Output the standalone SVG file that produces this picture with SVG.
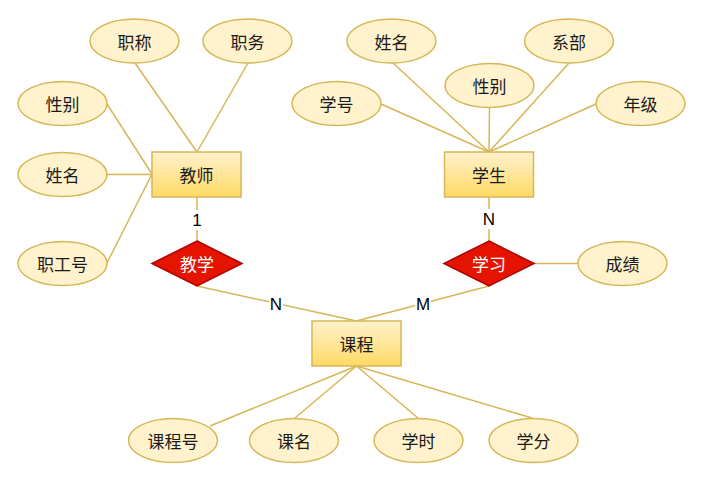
<svg xmlns="http://www.w3.org/2000/svg" width="703" height="482" viewBox="0 0 703 482">
<defs>
<linearGradient id="eg" x1="0" y1="0" x2="0" y2="1">
<stop offset="0" stop-color="#fff2cc"/>
<stop offset="1" stop-color="#ffd966"/>
</linearGradient>
<style>
.attr{fill:#fff2cc;stroke:#d6b656;stroke-width:1.5}
.ent{fill:url(#eg);stroke:#d6b656;stroke-width:1.5}
.rel{fill:#e51400;stroke:#b20000;stroke-width:1.5}
.t{font-family:"Noto Sans CJK SC","Liberation Sans",sans-serif;font-size:17px;fill:#1a1a1a;text-anchor:middle;dominant-baseline:central}
.tw{fill:#ffffff}
.lbl{font-family:"Liberation Sans",Arial,sans-serif;font-size:17px;fill:#000;text-anchor:middle;dominant-baseline:central}
.ln{stroke:#d6b656;stroke-width:1.5;fill:none}
.bg{fill:#ffffff}
</style>
</defs>
<rect width="703" height="482" fill="#ffffff"/>
<g id="connectors">
<line class="ln" x1="135" y1="63" x2="197" y2="152"/>
<line class="ln" x1="248" y1="63" x2="197" y2="152"/>
<line class="ln" x1="107" y1="104" x2="152" y2="174"/>
<line class="ln" x1="107" y1="174.5" x2="152" y2="174.5"/>
<line class="ln" x1="107" y1="263" x2="152" y2="174"/>
<line class="ln" x1="197" y1="197" x2="197" y2="241"/>
<line class="ln" x1="381" y1="104" x2="489" y2="152"/>
<line class="ln" x1="393" y1="63" x2="489" y2="152"/>
<line class="ln" x1="489.5" y1="108" x2="489" y2="152"/>
<line class="ln" x1="569" y1="63" x2="489" y2="152"/>
<line class="ln" x1="596" y1="104" x2="489" y2="152"/>
<line class="ln" x1="489" y1="197" x2="489" y2="241"/>
<line class="ln" x1="534" y1="263.5" x2="578" y2="263.5"/>
<line class="ln" x1="197" y1="286" x2="356.5" y2="321"/>
<line class="ln" x1="489" y1="286" x2="356.5" y2="321"/>
<line class="ln" x1="356.5" y1="366" x2="210" y2="426"/>
<line class="ln" x1="356.5" y1="366" x2="295" y2="418"/>
<line class="ln" x1="356.5" y1="366" x2="418" y2="418"/>
<line class="ln" x1="356.5" y1="366" x2="532" y2="418"/>
<rect class="bg" x="190" y="210" width="14" height="20"/>
<text class="lbl" x="197" y="220">1</text>
<rect class="bg" x="482" y="209" width="14" height="20"/>
<text class="lbl" x="489" y="219">N</text>
<rect class="bg" x="269" y="294" width="14" height="20"/>
<text class="lbl" x="276" y="304">N</text>
<rect class="bg" x="415" y="294" width="16" height="20"/>
<text class="lbl" x="423" y="304">M</text>
</g>
<g id="t-zhicheng"><ellipse class="attr" cx="134.5" cy="41" rx="44.5" ry="22"/><text class="t" x="134.5" y="41">职称</text></g>
<g id="t-zhiwu"><ellipse class="attr" cx="247.5" cy="41" rx="44.5" ry="22"/><text class="t" x="247.5" y="41">职务</text></g>
<g id="t-xingbie"><ellipse class="attr" cx="62.5" cy="103.5" rx="44.5" ry="22"/><text class="t" x="62.5" y="103.5">性别</text></g>
<g id="t-xingming"><ellipse class="attr" cx="62.5" cy="174.5" rx="44.5" ry="22"/><text class="t" x="62.5" y="174.5">姓名</text></g>
<g id="t-zhigonghao"><ellipse class="attr" cx="62.5" cy="263.5" rx="44.5" ry="22"/><text class="t" x="62.5" y="263.5">职工号</text></g>
<g id="teacher"><rect class="ent" x="152" y="152" width="89" height="45"/><text class="t" x="196.5" y="174.5">教师</text></g>
<g id="teach"><polygon class="rel" points="197,241 242,263.5 197,286 152,263.5"/><text class="t tw" x="197" y="263.5">教学</text></g>
<g id="s-xingming"><ellipse class="attr" cx="391.5" cy="41" rx="44.5" ry="22"/><text class="t" x="391.5" y="41">姓名</text></g>
<g id="s-xibu"><ellipse class="attr" cx="569" cy="41" rx="44.5" ry="22"/><text class="t" x="569" y="41">系部</text></g>
<g id="s-xingbie"><ellipse class="attr" cx="489.5" cy="85.5" rx="44.5" ry="22"/><text class="t" x="489.5" y="85.5">性别</text></g>
<g id="s-xuehao"><ellipse class="attr" cx="336.5" cy="103.5" rx="44.5" ry="22"/><text class="t" x="336.5" y="103.5">学号</text></g>
<g id="s-nianji"><ellipse class="attr" cx="640.5" cy="103.5" rx="44.5" ry="22"/><text class="t" x="640.5" y="103.5">年级</text></g>
<g id="student"><rect class="ent" x="444.5" y="152" width="89" height="45"/><text class="t" x="489" y="174.5">学生</text></g>
<g id="study"><polygon class="rel" points="489,241 534,263.5 489,286 444,263.5"/><text class="t tw" x="489" y="263.5">学习</text></g>
<g id="chengji"><ellipse class="attr" cx="622.5" cy="263.5" rx="44.5" ry="22"/><text class="t" x="622.5" y="263.5">成绩</text></g>
<g id="course"><rect class="ent" x="312" y="321" width="89" height="45"/><text class="t" x="356.5" y="343.5">课程</text></g>
<g id="c-kechenghao"><ellipse class="attr" cx="173" cy="440.5" rx="44.5" ry="22"/><text class="t" x="173" y="440.5">课程号</text></g>
<g id="c-keming"><ellipse class="attr" cx="294" cy="440.5" rx="44.5" ry="22"/><text class="t" x="294" y="440.5">课名</text></g>
<g id="c-xueshi"><ellipse class="attr" cx="418.5" cy="440.5" rx="44.5" ry="22"/><text class="t" x="418.5" y="440.5">学时</text></g>
<g id="c-xuefen"><ellipse class="attr" cx="533.5" cy="440.5" rx="44.5" ry="22"/><text class="t" x="533.5" y="440.5">学分</text></g>
</svg>
